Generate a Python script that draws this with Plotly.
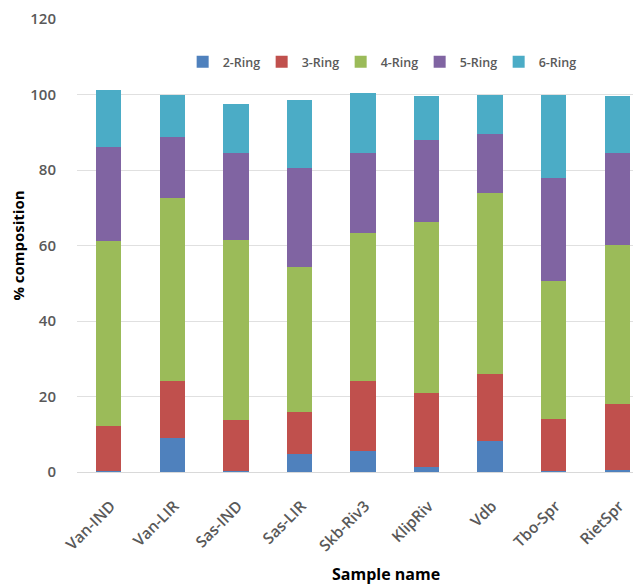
import plotly.graph_objects as go

samples = ["Van-IND", "Van-LIR", "Sas-IND", "Sas-LIR", "Skb-Riv3", "KlipRiv", "Vdb", "Tbo-Spr", "RietSpr"]
ring2 = [0.3, 8.9, 0.2, 4.9, 5.6, 1.3, 8.1, 0.3, 0.6]
ring3 = [12.0, 15.2, 13.7, 11.0, 18.5, 19.5, 17.8, 13.8, 17.4]
ring4 = [48.8, 48.5, 47.6, 38.5, 39.3, 45.4, 47.9, 36.5, 42.2]
ring5 = [24.9, 16.1, 23.1, 26.2, 21.1, 21.8, 15.8, 27.3, 24.4]
ring6 = [15.2, 11.2, 12.8, 17.9, 15.9, 11.7, 10.3, 22.0, 15.1]
series_names = ["2-Ring", "3-Ring", "4-Ring", "5-Ring", "6-Ring"]
y_ticks = [0, 20, 40, 60, 80, 100, 120]

colors = ["#4F81BD", "#C0504D", "#9BBB59", "#8064A2", "#4BACC6"]
series = [ring2, ring3, ring4, ring5, ring6]

fig = go.Figure()
for name, vals, c in zip(series_names, series, colors):
    fig.add_trace(go.Bar(x=samples, y=vals, name=name, marker=dict(color=c, line=dict(width=0))))

font_family = "Open Sans, Liberation Sans, sans-serif"
fig.update_layout(
    barmode="stack",
    bargap=0.6,
    width=641, height=584,
    margin=dict(l=69, r=0, t=11, b=120),
    paper_bgcolor="white", plot_bgcolor="white",
    font=dict(family=font_family, color="#595959", size=14),
    legend=dict(orientation="h", traceorder="normal", x=0.53, xanchor="center", y=0.905, yanchor="middle",
                font=dict(size=12.5, color="#595959", weight=600), itemwidth=30, tracegroupgap=0,
                entrywidth=34, entrywidthmode="pixels",
                bgcolor="rgba(0,0,0,0)"),
    xaxis=dict(tickangle=-45, tickfont=dict(size=15.5, color="#595959", weight=600), automargin=False,
               showline=True, linecolor="#D9D9D9", linewidth=1, ticks="", ticklabelstandoff=18,
               ticklabelshift=2),
    yaxis=dict(range=[0, 120], tickvals=y_ticks, showgrid=True, gridcolor="#E0E0E0", gridwidth=1,
               automargin=False,
               zeroline=False, tickfont=dict(size=15, color="#595959", weight=600), ticklabelstandoff=20,
               title=dict(text="<b>% composition</b>", font=dict(size=15, color="#000000"), standoff=14)),
    annotations=[dict(text="<b>Sample name</b>", xref="paper", yref="paper", x=0.54, y=-0.225,
                      xanchor="center", yanchor="middle", showarrow=False,
                      font=dict(size=16, color="#000000", family=font_family))],
)

fig.write_html("out.html")
